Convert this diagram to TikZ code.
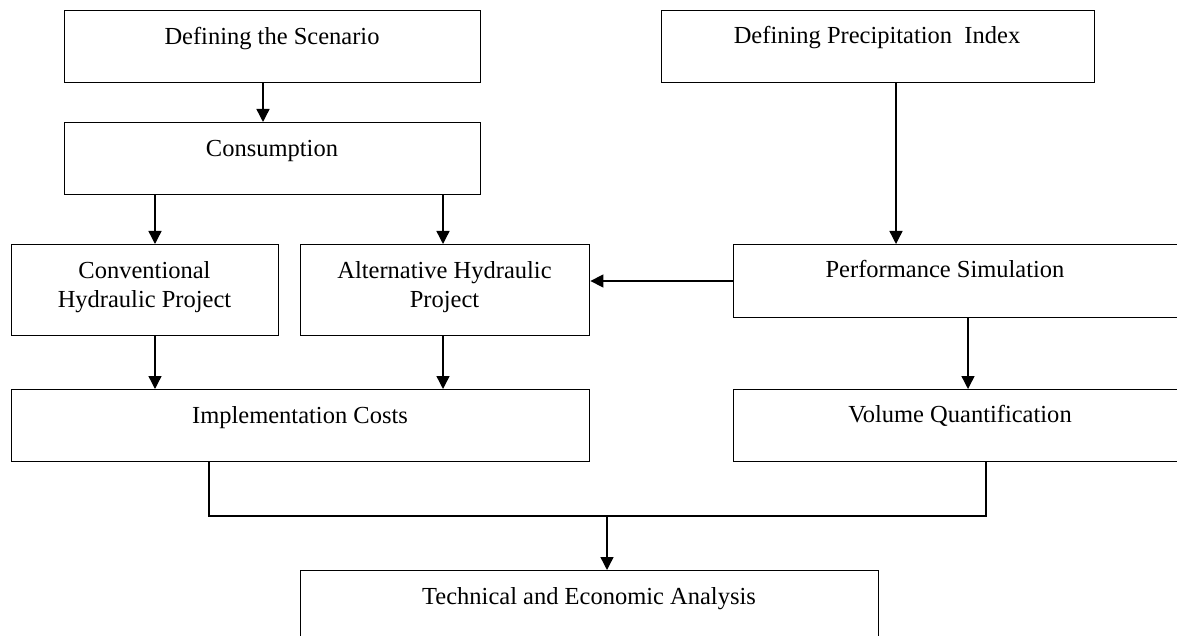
\documentclass[tikz,border=0pt]{standalone}
\usepackage{fontspec}
\setmainfont{Liberation Serif}
\usetikzlibrary{arrows.meta}
\begin{document}
\begin{tikzpicture}[x=1pt,y=-1pt,
  box/.style={draw=black, line width=1.4pt, fill=white, anchor=north west, inner sep=0pt},
  txt/.style={inner sep=0pt, font=\fontsize{24.5}{29}\selectfont, align=center},
  arr/.style={line width=1.4pt, -{Triangle[length=13pt,width=13pt]}},
  conn/.style={line width=1.4pt}]
\useasboundingbox (0,0) rectangle (1177,636);
\clip (0,0) rectangle (1177,636);
\fill[white] (0,0) rectangle (1177,636);

% boxes
\node[box, minimum width=416, minimum height=72] (scen) at (64,10) {};
\node[box, minimum width=416, minimum height=72] (cons) at (64,122) {};
\node[box, minimum width=433, minimum height=72] (prec) at (661,10) {};
\node[box, minimum width=267, minimum height=91] (conv) at (11,244) {};
\node[box, minimum width=289, minimum height=91] (alt) at (300,244) {};
\node[box, minimum width=480, minimum height=73] (perf) at (733,244) {};
\node[box, minimum width=578, minimum height=72] (impl) at (11,389) {};
\node[box, minimum width=480, minimum height=72] (vol) at (733,389) {};
\node[box, minimum width=578, minimum height=120] (tech) at (300,570) {};

% texts
\node[txt, anchor=base] (tscen) at (272,45) {Defining the Scenario};
\node[txt, anchor=base] (tcons) at (272,157) {Consumption};
\node[txt, anchor=base] (tprec) at (877,44) {Defining Precipitation\ \ Index};
\node[txt] (tconv) at (144.5,287) {Conventional\\Hydraulic Project};
\node[txt] (talt) at (444.5,287) {Alternative Hydraulic\\Project};
\node[txt, anchor=base] (tperf) at (945,277) {Performance Simulation};
\node[txt, anchor=base] (timpl) at (300,423) {Implementation Costs};
\node[txt, anchor=base] (tvol) at (960,422) {Volume Quantification};
\node[txt, anchor=base] (ttech) at (589,604) {Technical and Economic Analysis};

% x positions of connectors
\coordinate (xa) at (263,0);
\coordinate (xb) at (155,0);
\coordinate (xc) at (443,0);
\coordinate (xd) at (896,0);
\coordinate (xe) at (968,0);
\coordinate (ya) at (0,281);
\coordinate (m1) at (209,516);
\coordinate (m2) at (986,516);
\coordinate (j) at (607,516);

% connectors
\draw[arr] (scen.south -| xa) -- (cons.north -| xa);
\draw[arr] (cons.south -| xb) -- (conv.north -| xb);
\draw[arr] (cons.south -| xc) -- (alt.north -| xc);
\draw[arr] (prec.south -| xd) -- (perf.north -| xd);
\draw[arr] (perf.west |- ya) -- (alt.east |- ya);
\draw[arr] (conv.south -| xb) -- (impl.north -| xb);
\draw[arr] (alt.south -| xc) -- (impl.north -| xc);
\draw[arr] (perf.south -| xe) -- (vol.north -| xe);
\draw[conn] (impl.south -| m1) -- (m1) -- (m2) -- (vol.south -| m2);
\draw[arr] (j) -- (tech.north -| j);
\end{tikzpicture}
\end{document}
